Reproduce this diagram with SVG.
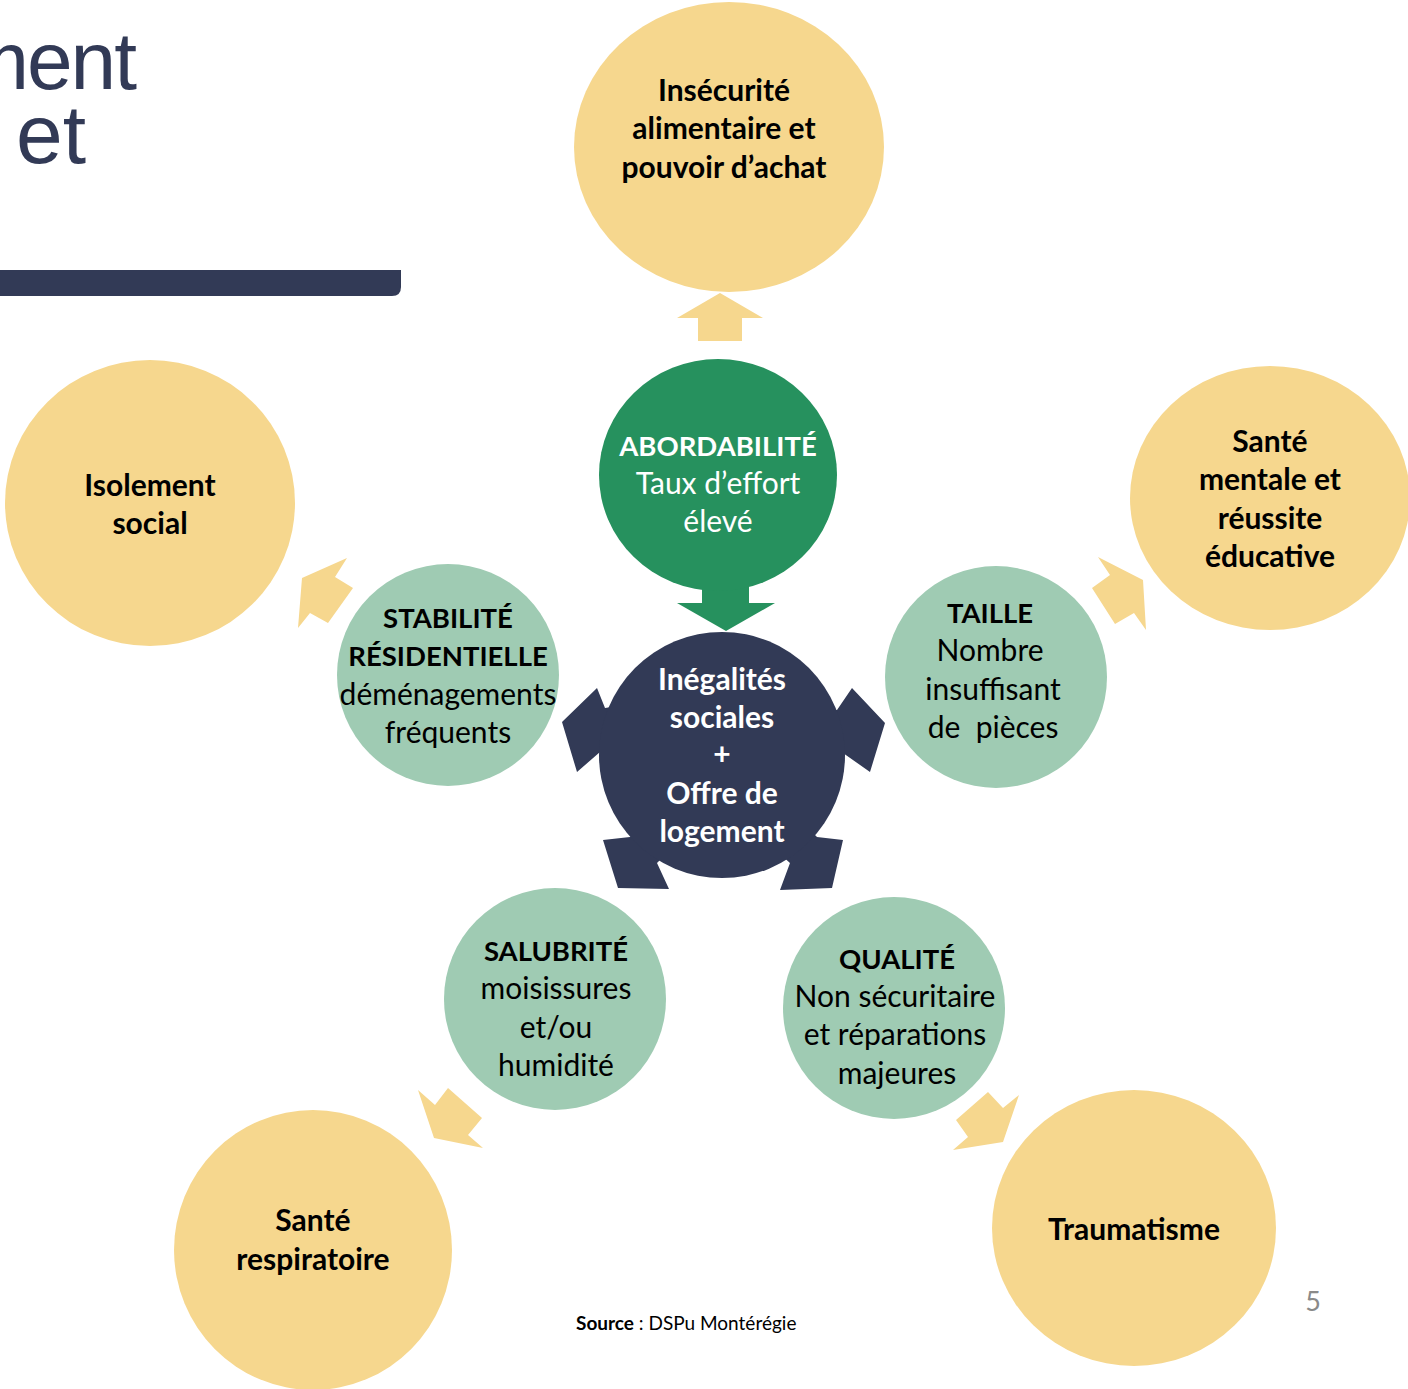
<svg xmlns="http://www.w3.org/2000/svg" width="1408" height="1389" viewBox="0 0 1408 1389">
<style>
.y{fill:#F6D78E}
.lg{fill:#9FCBB3}
.dg{fill:#26915E}
.nv{fill:#323A56}
text{font-family:Lato,"Open Sans","Liberation Sans",sans-serif;font-size:30px;text-anchor:middle}
.b{font-weight:bold}
.u{font-size:27.5px}
.k{fill:#000}
.w{fill:#fff}
.t{font-family:"Liberation Sans",Arial,sans-serif;font-size:82px;text-anchor:end;fill:#323A56}
</style>
<rect width="1408" height="1389" fill="#fff"/>
<g id="title">
<text class="t" x="135" y="89" style="letter-spacing:-2px">ment</text>
<text class="t" x="86" y="163" style="font-size:84px">et</text>
<path d="M0 270 H401 V287 Q401 296 392 296 H0 Z" fill="#323A56"/>
</g>
<g id="connectors">
<polygon class="y" points="720,293 763,318 742,318 742,341 698,341 698,318 677,318"/>
<polygon class="dg" points="702,570 749,570 749,603 775,603 726,631 677,603 702,603"/>
<polygon class="y" points="302,578 347,558 335,577 353,588 328,623 310,613 298,628"/>
<polygon class="y" points="1143,580 1098,557 1110,575 1092,588 1115,624 1134,613 1146,630"/>
<polygon class="y" points="434,1138 418,1090 435,1105 448,1088 482,1118 468,1135 483,1148"/>
<polygon class="y" points="1003,1142 953,1150 968,1137 956,1120 988,1092 1003,1108 1019,1095"/>
<polygon class="nv" points="625,705 605,708 597,688 562,722 577,772 600,752 625,752"/>
<polygon class="nv" points="820,710 837,710 852,688 885,723 870,772 843,753 820,753"/>
<polygon class="nv" points="645,820 630,837 603,840 618,888 669,889 657,863 675,845"/>
<polygon class="nv" points="800,820 817,837 843,840 832,888 780,890 790,863 770,845"/>
</g>
<g id="n-insecurite">
<ellipse class="y" cx="729" cy="147" rx="155" ry="145"/>
<text class="b k" x="724" y="101">Insécurité</text>
<text class="b k" x="724" y="139">alimentaire et</text>
<text class="b k" x="724" y="178">pouvoir d’achat</text>
</g>
<g id="n-isolement">
<ellipse class="y" cx="150" cy="503" rx="145" ry="143"/>
<text class="b k" x="150" y="496">Isolement</text>
<text class="b k" x="150" y="534">social</text>
</g>
<g id="n-sante-mentale">
<ellipse class="y" cx="1270" cy="498" rx="140" ry="132"/>
<text class="b k" x="1270" y="452">Santé</text>
<text class="b k" x="1270" y="490">mentale et</text>
<text class="b k" x="1270" y="529">réussite</text>
<text class="b k" x="1270" y="567">éducative</text>
</g>
<g id="n-respiratoire">
<ellipse class="y" cx="313" cy="1250" rx="139" ry="140"/>
<text class="b k" x="313" y="1231">Santé</text>
<text class="b k" x="313" y="1270">respiratoire</text>
</g>
<g id="n-traumatisme">
<ellipse class="y" cx="1134" cy="1228" rx="142" ry="138"/>
<text class="b k" x="1134" y="1240">Traumatisme</text>
</g>
<g id="n-abordabilite">
<ellipse class="dg" cx="718" cy="475" rx="119" ry="116"/>
<text class="b u w" x="718" y="456">ABORDABILITÉ</text>
<text class="w" x="718" y="494">Taux d’effort</text>
<text class="w" x="718" y="532">élevé</text>
</g>
<g id="n-stabilite">
<circle class="lg" cx="448" cy="675" r="111"/>
<text class="b u k" x="448" y="628">STABILITÉ</text>
<text class="b u k" x="448" y="666">RÉSIDENTIELLE</text>
<text class="k" x="448" y="705">déménagements</text>
<text class="k" x="448" y="743">fréquents</text>
</g>
<g id="n-taille">
<circle class="lg" cx="996" cy="677" r="111"/>
<text class="b u k" x="990" y="623">TAILLE</text>
<text class="k" x="990" y="661">Nombre</text>
<text class="k" x="993" y="700">insuffisant</text>
<text class="k" x="993" y="738" xml:space="preserve">de  pièces</text>
</g>
<g id="n-center">
<circle class="nv" cx="722" cy="755" r="123"/>
<text class="b w" x="722" y="690">Inégalités</text>
<text class="b w" x="722" y="728">sociales</text>
<text class="b w" x="722" y="765">+</text>
<text class="b w" x="722" y="804">Offre de</text>
<text class="b w" x="722" y="842">logement</text>
</g>
<g id="n-salubrite">
<circle class="lg" cx="555" cy="999" r="111"/>
<text class="b u k" x="556" y="961">SALUBRITÉ</text>
<text class="k" x="556" y="999">moisissures</text>
<text class="k" x="556" y="1038">et/ou</text>
<text class="k" x="556" y="1076">humidité</text>
</g>
<g id="n-qualite">
<circle class="lg" cx="894" cy="1008" r="111"/>
<text class="b u k" x="897" y="969">QUALITÉ</text>
<text class="k" x="895" y="1007">Non sécuritaire</text>
<text class="k" x="895" y="1045">et réparations</text>
<text class="k" x="897" y="1084">majeures</text>
</g>
<g id="footer">
<text x="576" y="1330" style="font-size:19px;text-anchor:start" fill="#000"><tspan font-weight="bold">Source</tspan> : DSPu Montérégie</text>
<text x="1313" y="1311" style="font-size:27px" fill="#8A8A8A">5</text>
</g>
</svg>
